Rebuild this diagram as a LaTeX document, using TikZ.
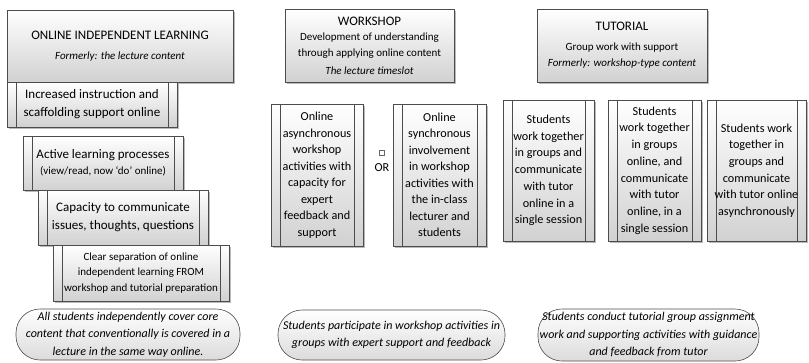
\documentclass[tikz,border=0pt]{standalone}
\usepackage{fontspec}
\setmainfont{Carlito}
\usetikzlibrary{shadows}

\newcommand{\subtxt}{\fontsize{11}{16}\selectfont}
\newcommand{\headtxt}{\fontsize{13}{18}\selectfont}

\begin{document}
\begin{tikzpicture}[x=1pt,y=-1pt,
    boxline/.style={draw=black!70,line width=0.6pt},
    topbox/.style={boxline,top color=white,bottom color=black!18,
      drop shadow={shadow xshift=1.5pt,shadow yshift=-1.5pt,fill=black!45,opacity=0.6},
      inner sep=0pt,align=center},
    procbox/.style={topbox,
      path picture={\draw[boxline]
        ([xshift=9pt]path picture bounding box.north west) -- ([xshift=9pt]path picture bounding box.south west)
        ([xshift=-9pt]path picture bounding box.north east) -- ([xshift=-9pt]path picture bounding box.south east);}},
    notebox/.style={boxline,top color=white,bottom color=black!14,rounded corners=24pt,
      inner sep=0pt,align=center,font=\fontsize{12}{17.5}\selectfont\itshape}]
\useasboundingbox (0,0) rectangle (809,362);

\begin{scope}[every node/.append style={font=\headtxt}]
    \node[topbox,minimum width=226,minimum height=72] (online) at (120,46)
      {ONLINE INDEPENDENT LEARNING\\[2pt]{\subtxt\itshape Formerly: the lecture content}};
    \node[procbox,minimum width=170,minimum height=45] (instr) at (92,104.5)
      {Increased instruction and\\scaffolding support online};
    \node[procbox,minimum width=160,minimum height=54] (active) at (103,163)
      {Active learning processes\\[-2pt]{\subtxt(view/read, now `do' online)}};
    \node[procbox,minimum width=170,minimum height=55] (comm) at (123,217.5)
      {Capacity to communicate\\issues, thoughts, questions};
    \node[procbox,minimum width=176,minimum height=56,font=\fontsize{11}{15.5}\selectfont] (sep) at (141,273)
      {Clear separation of online\\independent learning FROM\\workshop and tutorial preparation};
\end{scope}

\begin{scope}[every node/.append style={font=\fontsize{12.2}{16.5}\selectfont}]
    \node[topbox,minimum width=169,minimum height=73,font=\subtxt] (work) at (369.5,45.5)
      {{\headtxt WORKSHOP}\\[-1pt]Development of understanding\\through applying online content\\[2pt]\textit{The lecture timeslot}};
    \node[procbox,minimum width=92,minimum height=142] (async) at (317,175)
      {Online\\asynchronous\\workshop\\activities with\\capacity for\\expert\\feedback and\\support};
    \node[procbox,minimum width=93,minimum height=142] (sync) at (439.5,175)
      {Online\\synchronous\\involvement\\in workshop\\activities with\\the in-class\\lecturer and\\students};
    \node[draw=black!60,line width=0.4pt,minimum size=5pt,inner sep=0pt] (sq) at (382,153) {};
    \node (or) at (382,168) {OR};
\end{scope}

\begin{scope}[every node/.append style={font=\fontsize{12.2}{16.7}\selectfont}]
    \node[topbox,minimum width=170,minimum height=73,font=\subtxt] (tut) at (622,45.5)
      {{\headtxt TUTORIAL}\\[4pt]Group work with support\\\textit{Formerly: workshop-type content}};
    \node[procbox,minimum width=91,minimum height=141] (tutone) at (548.5,170.5)
      {Students\\work together\\in groups and\\communicate\\with tutor\\online in a\\single session};
    \node[procbox,minimum width=93,minimum height=141] (tuttwo) at (654.5,170.5)
      {Students\\work together\\in groups\\online, and\\communicate\\with tutor\\online, in a\\single session};
    \node[procbox,minimum width=99,minimum height=141] (tutthree) at (756.5,170.5)
      {Students work\\together in\\groups and\\communicate\\with tutor online\\asynchronously};
\end{scope}

\node[notebox,minimum width=224,minimum height=51] (cover) at (128,334.5)
  {All students independently cover core\\content that conventionally is covered in a\\lecture in the same way online.};
\node[notebox,minimum width=227,minimum height=50] (part) at (391.5,335)
  {Students participate in workshop activities in\\groups with expert support and feedback};
\node[notebox,minimum width=221,minimum height=52] (conduct) at (648.5,335)
  {Students conduct tutorial group assignment\\work and supporting activities with guidance\\and feedback from tutor};
\end{tikzpicture}
\end{document}
